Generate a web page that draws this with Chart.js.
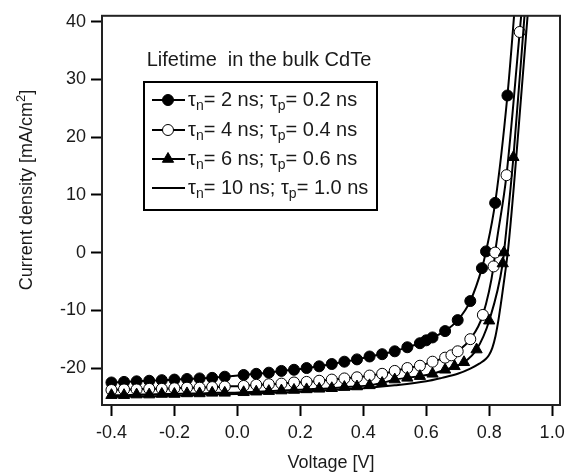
<!DOCTYPE html>
<html>
<head>
<meta charset="utf-8">
<script src="https://cdn.jsdelivr.net/npm/chart.js@4"></script>
<style>
  body { margin: 0; background: #fff; }
  #wrap { width: 576px; height: 475px; position: relative; }
</style>
</head>
<body>
<div id="wrap"><canvas id="jvCanvas"></canvas></div>
<script>
// tau_n = 2 ns, tau_p = 0.2 ns (filled circles)
const voltA = [-0.40,-0.36,-0.32,-0.28,-0.24,-0.20,-0.16,-0.12,-0.08,-0.04,0.02,0.06,0.10,0.14,0.18,0.22,0.26,0.30,0.34,0.38,0.42,0.46,0.50,0.54,0.58,0.60,0.62,0.66,0.70,0.74,0.777,0.79,0.819,0.858,0.885];
const currA = [-22.5,-22.4,-22.3,-22.2,-22.1,-22.0,-21.9,-21.8,-21.7,-21.5,-21.2,-21.0,-20.8,-20.5,-20.3,-20.0,-19.7,-19.3,-18.9,-18.5,-18.0,-17.6,-17.1,-16.4,-15.7,-15.2,-14.7,-13.6,-11.7,-8.4,-2.7,0.2,8.6,27.2,45];
// tau_n = 4 ns, tau_p = 0.4 ns (open circles)
const voltB = [-0.40,-0.36,-0.32,-0.28,-0.24,-0.20,-0.16,-0.12,-0.08,-0.04,0.02,0.06,0.10,0.14,0.18,0.22,0.26,0.30,0.34,0.38,0.42,0.46,0.50,0.54,0.58,0.62,0.66,0.68,0.70,0.74,0.78,0.814,0.819,0.855,0.897,0.905];
const currB = [-23.8,-23.7,-23.7,-23.6,-23.6,-23.5,-23.4,-23.4,-23.3,-23.2,-23.1,-22.9,-22.8,-22.7,-22.5,-22.4,-22.2,-22.0,-21.8,-21.6,-21.3,-21.0,-20.5,-20.0,-19.6,-18.9,-18.2,-17.8,-17.1,-15.0,-10.8,-2.4,0.0,13.4,38.2,43];
// tau_n = 6 ns, tau_p = 0.6 ns (triangles)
const voltC = [-0.40,-0.36,-0.32,-0.28,-0.24,-0.20,-0.16,-0.12,-0.08,-0.04,0.02,0.06,0.10,0.14,0.18,0.22,0.26,0.30,0.34,0.38,0.42,0.46,0.50,0.54,0.58,0.62,0.66,0.69,0.72,0.76,0.80,0.843,0.847,0.877,0.915];
const currC = [-24.7,-24.7,-24.6,-24.6,-24.5,-24.5,-24.4,-24.4,-24.3,-24.3,-24.2,-24.1,-24.0,-23.9,-23.8,-23.7,-23.6,-23.5,-23.3,-23.2,-23.0,-22.6,-22.0,-21.7,-21.4,-21.0,-20.3,-19.7,-19.0,-16.8,-11.8,-1.9,0.0,16.5,43];
// tau_n = 10 ns, tau_p = 1.0 ns (line only)
const voltD = [-0.4,-0.3,-0.2,-0.1,0.0,0.1,0.2,0.3,0.4,0.5,0.6,0.65,0.70,0.74,0.77,0.79,0.80,0.81,0.82,0.83,0.84,0.85,0.86,0.88,0.90,0.925];
const currD = [-25.0,-24.9,-24.8,-24.6,-24.5,-24.3,-24.1,-23.8,-23.5,-23.0,-22.3,-21.7,-21.0,-20.1,-19.2,-18.4,-17.7,-16.5,-14.5,-11.5,-7.8,-3.8,0.5,12.5,26,43];

const tauN = ["2", "4", "6", "10"];
const tauP = ["0.2", "0.4", "0.6", "1.0"];
const legendTitle = "Lifetime  in the bulk CdTe";

const xTicks = [-0.4, -0.2, 0.0, 0.2, 0.4, 0.6, 0.8, 1.0];
const yTicks = [-20, -10, 0, 10, 20, 30, 40];

const FONT = "'Liberation Sans', Arial, sans-serif";
const INK = "#1a1a1a";

function pairs(xs, ys) {
  return xs.map((x, i) => ({ x: x, y: ys[i] }));
}

const markers = [
  { style: "circle", fill: "#000", r: 5.5 },
  { style: "circle", fill: "#fff", r: 5.5 },
  { style: "triangle", fill: "#000", r: 6.5 },
  { style: false, fill: "#000", r: 0 },
];

// draws text pieces left to right, sub = 1 lowered, sub = -1 raised
function drawPieces(c, parts, x, y, big, small) {
  parts.forEach(([t, sub]) => {
    c.font = (sub ? small : big) + "px " + FONT;
    c.fillText(t, x, y + sub * 6);
    x += c.measureText(t).width;
  });
  return x;
}

// frame round the plot area, y title with superscript, legend box with subscripts
const framePlugin = {
  id: "frame",
  afterDatasetsDraw(chart) {
    const c = chart.ctx;
    const a = chart.chartArea;
    c.save();
    c.strokeStyle = "#222";
    c.lineWidth = 2;
    c.strokeRect(a.left, a.top, a.right - a.left, a.bottom - a.top);
    c.restore();
  },
  afterDraw(chart) {
    const c = chart.ctx;
    c.save();
    c.fillStyle = INK;
    c.textBaseline = "middle";

    // y axis title
    const yParts = [["Current density [mA/cm", 0], ["2", -1], ["]", 0]];
    let w = 0;
    yParts.forEach(([t, sub]) => { c.font = (sub ? 13 : 18) + "px " + FONT; w += c.measureText(t).width; });
    c.save();
    c.translate(27, 190);
    c.rotate(-Math.PI / 2);
    c.textAlign = "left";
    drawPieces(c, yParts, -w / 2, 0, 18, 13);
    c.restore();

    c.textAlign = "center";
    c.font = "20px " + FONT;
    c.fillText(legendTitle, 259, 60);

    c.fillStyle = "#fff";
    c.fillRect(144, 82, 233, 128);
    c.strokeStyle = "#000";
    c.lineWidth = 2;
    c.strokeRect(144, 82, 233, 128);

    const rows = [100, 130, 159, 188];
    rows.forEach((y, i) => {
      c.strokeStyle = "#000";
      c.lineWidth = 2;
      c.beginPath();
      c.moveTo(152, y);
      c.lineTo(185, y);
      c.stroke();
      const m = markers[i];
      if (m.style) {
        c.fillStyle = m.fill;
        c.strokeStyle = "#000";
        c.lineWidth = 1;
        Chart.helpers.drawPoint(c, { pointStyle: m.style, radius: m.r, rotation: 0, borderWidth: 1 }, 168, y);
      }
      c.fillStyle = INK;
      c.textAlign = "left";
      drawPieces(c, [
        ["τ", 0], ["n", 1], ["= " + tauN[i] + " ns; ", 0],
        ["τ", 0], ["p", 1], ["= " + tauP[i] + " ns", 0],
      ], 188, y, 20, 14);
    });
    c.restore();
  },
};

const ds = (label, xs, ys, m) => ({
  label: label,
  data: pairs(xs, ys),
  showLine: true,
  borderColor: "#000",
  borderWidth: 2,
  cubicInterpolationMode: "monotone",
  pointStyle: m.style,
  pointRadius: m.r,
  pointBackgroundColor: m.fill,
  pointBorderColor: "#000",
  pointBorderWidth: 1,
  pointHoverRadius: m.r,
});

new Chart(document.getElementById("jvCanvas"), {
  type: "scatter",
  data: {
    datasets: [
      ds("D", voltD, currD, markers[3]),
      ds("C", voltC, currC, markers[2]),
      ds("B", voltB, currB, markers[1]),
      ds("A", voltA, currA, markers[0]),
    ],
  },
  options: {
    responsive: true,
    maintainAspectRatio: false,
    animation: false,
    events: [],
    layout: { padding: { top: 8, right: 16, left: 0, bottom: 0 } },
    plugins: { legend: { display: false }, tooltip: { enabled: false } },
    scales: {
      x: {
        type: "linear",
        min: -0.43,
        max: 1.025,
        afterBuildTicks: (s) => { s.ticks = xTicks.map((v) => ({ value: v })); },
        afterFit: (s) => { s.height = 70; },
        grid: { drawOnChartArea: false, drawTicks: true, tickLength: 11, tickWidth: 2, tickColor: "#000" },
        border: { display: true, color: "#222", width: 2 },
        ticks: {
          color: INK,
          padding: 6,
          maxRotation: 0,
          font: { family: FONT, size: 18 },
          callback: (v) => Number(v).toFixed(1),
        },
        title: {
          display: true,
          text: "Voltage [V]",
          color: INK,
          font: { family: FONT, size: 18 },
          padding: { top: 0, bottom: 1 },
        },
      },
      y: {
        type: "linear",
        min: -26.4,
        max: 41,
        afterBuildTicks: (s) => { s.ticks = yTicks.map((v) => ({ value: v })); },
        afterFit: (s) => { s.width = 102; },
        grid: { drawOnChartArea: false, drawTicks: true, tickLength: 11, tickWidth: 2, tickColor: "#000" },
        border: { display: true, color: "#222", width: 2 },
        ticks: {
          color: INK,
          padding: 5,
          font: { family: FONT, size: 18 },
          callback: (v) => String(v),
        },
      },
    },
  },
  plugins: [framePlugin],
});
</script>
</body>
</html>
